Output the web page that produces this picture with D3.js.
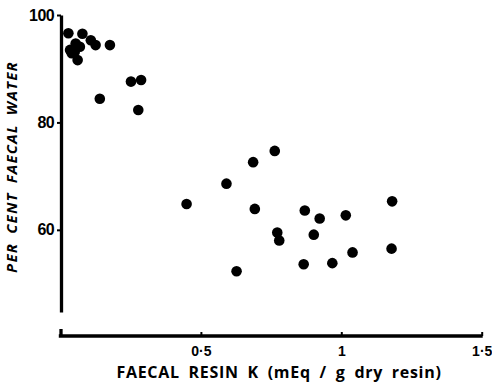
<!DOCTYPE html>
<html>
<head>
<meta charset="utf-8">
<script src="https://cdn.jsdelivr.net/npm/d3@7"></script>
<style>
  body { margin: 0; background: #fff; }
  svg text { fill: #000; }
</style>
</head>
<body>
<div id="chart"></div>
<script>
// faecal resin K (mEq/g dry resin) vs per cent faecal water
const resinK = [0.028, 0.078, 0.108, 0.125, 0.176, 0.034, 0.054, 0.069, 0.051, 0.061, 0.040,
                0.140, 0.251, 0.287, 0.277, 0.449, 0.591, 0.686, 0.763, 0.692, 0.772, 0.779,
                0.627, 0.870, 0.923, 1.016, 1.181, 0.902, 1.179, 1.040, 0.968, 0.866];
const faecalWater = [96.6, 96.5, 95.3, 94.4, 94.4, 93.5, 94.7, 94.1, 93.2, 91.6, 92.9,
                     84.4, 87.6, 87.9, 82.3, 64.8, 68.6, 72.6, 74.7, 63.9, 59.5, 58.0,
                     52.3, 63.6, 62.1, 62.7, 65.3, 59.1, 56.5, 55.8, 53.8, 53.6];
const xTicks = [0, 0.5, 1, 1.5];
const xTickLabels = ["", "0·5", "1", "1·5"];
const yTicks = [60, 80, 100];

const width = 492, height = 383;

let svg = d3.select("#chart").append("svg")
    .attr("width", width).attr("height", height)
    .style("font-family", "'Open Sans', 'DejaVu Sans', sans-serif");

let x = d3.scaleLinear().domain([0, 1.5]).range([60.5, 481.7]);
let y = d3.scaleLinear().domain([44.7, 100]).range([312, 15]);

//Y axis
let yAxis = d3.axisLeft(y).tickValues(yTicks).tickSizeInner(4).tickSizeOuter(0).tickPadding(3);
let gy = svg.append("g").attr("transform", "translate(61,0)").call(yAxis);
gy.select(".domain").attr("stroke-width", 3.3);
gy.selectAll(".tick line").attr("stroke-width", 2);
gy.selectAll(".tick text")
    .attr("font-family", "'Liberation Sans', Arial, sans-serif")
    .attr("font-size", "16px").attr("font-weight", "bold")
    .attr("letter-spacing", "-0.6px");

//X axis
let xAxis = d3.axisBottom(x).tickValues(xTicks)
    .tickFormat((d, i) => xTickLabels[i])
    .tickSizeInner(-4).tickSizeOuter(0).tickPadding(10);
let gx = svg.append("g").attr("transform", "translate(0,336)").call(xAxis);
gx.select(".domain").attr("stroke-width", 3.6).attr("d", "M58.8,0H" + (x(1.5) + 1));
gx.selectAll(".tick line").attr("stroke-width", 2);
gx.selectAll(".tick line").filter(d => d === 0).attr("y2", -7).attr("stroke-width", 3.3);
gx.selectAll(".tick text")
    .attr("font-size", "14px").attr("font-weight", "bold");

//Axis titles
svg.append("text")
    .attr("x", 279).attr("y", 378)
    .attr("text-anchor", "middle")
    .attr("font-size", "16px").attr("font-weight", "bold")
    .attr("letter-spacing", "0.7px")
    .attr("word-spacing", "4px")
    .text("FAECAL RESIN K  (mEq / g dry resin)");

svg.append("text")
    .attr("transform", "translate(17,167) rotate(-90)")
    .attr("text-anchor", "middle")
    .attr("font-size", "15px").attr("font-weight", "bold")
    .attr("font-style", "italic")
    .attr("letter-spacing", "1.2px")
    .attr("word-spacing", "4px")
    .text("PER CENT FAECAL WATER");

//Points
svg.append("g").selectAll("circle")
    .data(resinK.map((k, i) => ({k: k, w: faecalWater[i]})))
    .enter().append("circle")
    .attr("cx", d => x(d.k))
    .attr("cy", d => y(d.w))
    .attr("r", 5.3)
    .attr("fill", "#000");
</script>
</body>
</html>
